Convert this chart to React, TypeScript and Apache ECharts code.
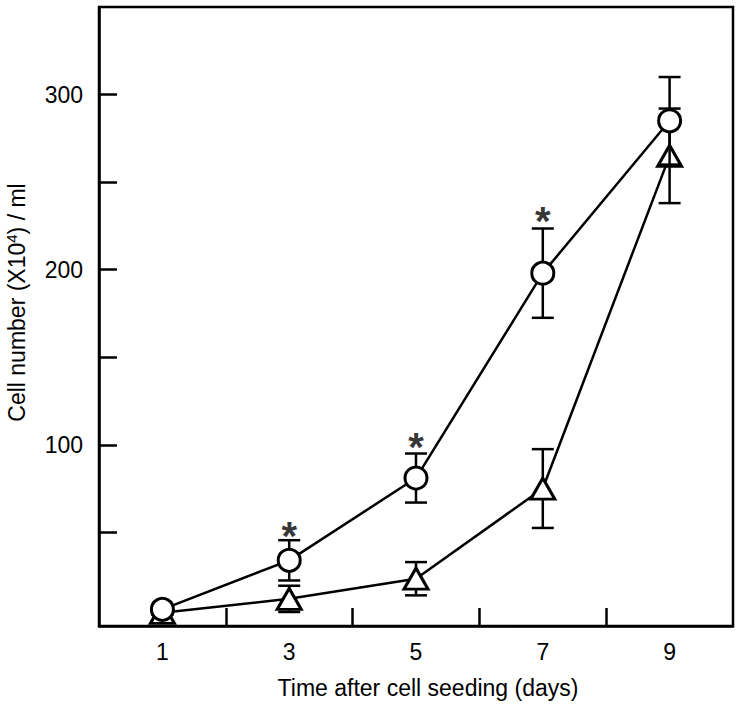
import React, { useEffect, useRef } from "react";
import * as echarts from "echarts";

const days = [1, 3, 5, 7, 9];
const circleMean = [6, 34, 81, 198, 285];
const circleErr = [1, 11.5, 14, 25.5, 25];
const triMean = [4, 12, 23.5, 75, 265];
const triErr = [1, 7.5, 9.5, 22.5, 27];
const asteriskDays = [3, 5, 7];
const asteriskY = [53, 104, 233];
const yTickValues = [50, 100, 150, 200, 250, 300];
const yLabelValues = [100, 200, 300];
const xTickValues = [2, 4, 6, 8];
const xLabelValues = [1, 3, 5, 7, 9];

const FONT = "Liberation Sans, Arial, sans-serif";

export default function App() {
  const ref = useRef<HTMLDivElement>(null);
  useEffect(() => {
    document.body.style.margin = "0";
    if (!ref.current) return;
    const chart = echarts.init(ref.current, null, { renderer: "svg" });
    const errData = (m: number[], e: number[]) =>
      days.map((d, i) => [d, m[i], m[i] - e[i], m[i] + e[i]]);
    const errSeries = (m: number[], e: number[], z: number) => ({
      type: "custom",
      z,
      silent: true,
      data: errData(m, e),
      encode: { x: 0, y: [1, 2, 3] },
      renderItem: (params: any, api: any) => {
        const x = api.value(0);
        const lo = api.coord([x, api.value(2)]);
        const hi = api.coord([x, api.value(3)]);
        const hw = 11;
        const style = { stroke: "#000", lineWidth: 2.5 };
        return {
          type: "group",
          children: [
            { type: "line", shape: { x1: lo[0], y1: lo[1], x2: hi[0], y2: hi[1] }, style },
            { type: "line", shape: { x1: hi[0] - hw, y1: hi[1], x2: hi[0] + hw, y2: hi[1] }, style },
            { type: "line", shape: { x1: lo[0] - hw, y1: lo[1], x2: lo[0] + hw, y2: lo[1] }, style },
          ],
        };
      },
    });
    chart.setOption({
      animation: false,
      grid: {
        left: 99,
        right: 9,
        top: 7,
        bottom: 80,
        containLabel: false,
        outerBoundsMode: "none",
        show: true,
        borderColor: "#000",
        borderWidth: 2.5,
      },
      xAxis: {
        type: "value",
        min: 0,
        max: 10,
        name: "Time after cell seeding (days)",
        nameLocation: "middle",
        nameGap: 50,
        nameTextStyle: { fontFamily: FONT, fontSize: 23, color: "#000", padding: [0, 0, 0, 24] },
        axisLine: { show: true, onZero: false, lineStyle: { color: "#000", width: 2.5 } },
        splitLine: { show: false },
        axisTick: {
          show: true,
          inside: true,
          length: 18,
          customValues: xTickValues,
          lineStyle: { color: "#000", width: 2.5 },
        },
        axisLabel: {
          customValues: xLabelValues,
          margin: 14,
          fontFamily: FONT,
          fontSize: 23,
          color: "#000",
        },
      },
      yAxis: {
        type: "value",
        min: -3.5,
        max: 350,
        name: "Cell number (X10{sup|4}) / ml",
        nameLocation: "middle",
        nameGap: 70,
        nameTextStyle: {
          fontFamily: FONT,
          fontSize: 23,
          color: "#000",
          padding: [0, 0, 0, 28],
          rich: {
            sup: { fontFamily: FONT, fontSize: 15, color: "#000", padding: [0, 0, 10, 0] },
          },
        },
        axisLine: { show: true, onZero: false, lineStyle: { color: "#000", width: 2.5 } },
        splitLine: { show: false },
        axisTick: {
          show: true,
          inside: true,
          length: 18,
          customValues: yTickValues,
          lineStyle: { color: "#000", width: 2.5 },
        },
        axisLabel: {
          customValues: yLabelValues,
          margin: 16,
          fontFamily: FONT,
          fontSize: 23,
          color: "#000",
        },
      },
      series: [
        errSeries(triMean, triErr, 2),
        {
          type: "line",
          z: 3,
          data: days.map((d, i) => [d, triMean[i]]),
          symbol: "triangle",
          symbolSize: [24, 21],
          showAllSymbol: true,
          lineStyle: { color: "#000", width: 2.5 },
          itemStyle: { color: "#fff", borderColor: "#000", borderWidth: 3 },
        },
        errSeries(circleMean, circleErr, 4),
        {
          type: "line",
          z: 5,
          data: days.map((d, i) => [d, circleMean[i]]),
          symbol: "circle",
          symbolSize: 22,
          showAllSymbol: true,
          lineStyle: { color: "#000", width: 2.5 },
          itemStyle: { color: "#fff", borderColor: "#000", borderWidth: 3 },
        },
        {
          type: "scatter",
          z: 6,
          symbolSize: 1,
          itemStyle: { color: "transparent" },
          data: asteriskDays.map((d, i) => [d, asteriskY[i]]),
          label: {
            show: true,
            position: "inside",
            formatter: "*",
            fontFamily: FONT,
            fontSize: 40,
            fontWeight: "bold",
            offset: [0, 9],
            color: "#000",
          },
        },
      ],
    });
    return () => chart.dispose();
  }, []);
  return <div ref={ref} style={{ width: 742, height: 706 }} />;
}
